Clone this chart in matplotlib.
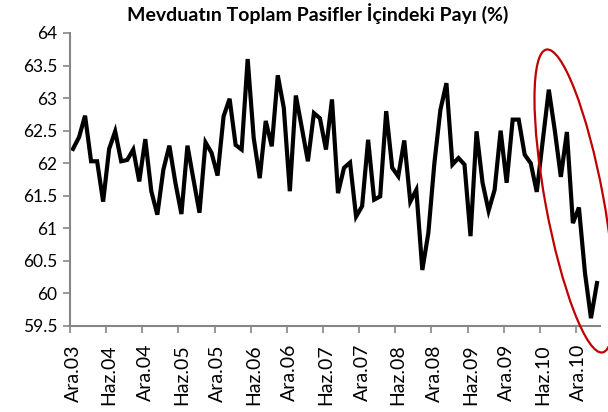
import matplotlib
matplotlib.use("Agg")
import matplotlib.pyplot as plt
from matplotlib.patches import Ellipse

plt.rcParams['font.family'] = ['Lato', 'DejaVu Sans']

# monthly share of deposits in total liabilities (%), Ara.03 .. Mar.11
payi = [62.22, 62.40, 62.73, 62.03, 62.03, 61.41, 62.22, 62.49, 62.03, 62.05,
        62.21, 61.72, 62.37, 61.57, 61.21, 61.90, 62.27, 61.70, 61.22, 62.27,
        61.75, 61.24, 62.32, 62.16, 61.81, 62.72, 62.99, 62.28, 62.21, 63.60,
        62.39, 61.77, 62.65, 62.26, 63.35, 62.85, 61.57, 63.04, 62.54, 62.03,
        62.77, 62.69, 62.21, 62.98, 61.54, 61.93, 62.01, 61.18, 61.34, 62.36,
        61.44, 61.49, 62.80, 61.93, 61.80, 62.35, 61.41, 61.59, 60.36, 60.93,
        62.00, 62.82, 63.23, 61.98, 62.08, 61.98, 60.88, 62.49, 61.70, 61.27,
        61.59, 62.50, 61.70, 62.67, 62.67, 62.13, 62.00, 61.56, 62.35, 63.13,
        62.50, 61.79, 62.48, 61.08, 61.32, 60.32, 59.62, 60.16]

etiketler = ['Ara.03', 'Haz.04', 'Ara.04', 'Haz.05', 'Ara.05', 'Haz.06', 'Ara.06',
             'Haz.07', 'Ara.07', 'Haz.08', 'Ara.08', 'Haz.09', 'Ara.09', 'Haz.10',
             'Ara.10']
y_ticks = [59.5, 60, 60.5, 61, 61.5, 62, 62.5, 63, 63.5, 64]

gray = '#868686'

fig = plt.figure(figsize=(6.08, 4.12), dpi=100)
ax = fig.add_axes([70/608, 1 - 326/412, 530/608, 293/412])

x = range(len(payi))
ax.plot(x, payi, color='black', lw=3, solid_joinstyle='miter')

ax.set_xlim(-0.5, len(payi) - 0.5)
ax.set_ylim(59.5, 64)

# labels on every 6th month, ticks between the categories
ax.set_xticks(range(0, len(payi), 6))
ax.set_xticklabels(etiketler, rotation=90, fontsize=14)
ax.tick_params(axis='x', length=0, pad=13)
ax.set_xticks([i - 0.5 for i in range(0, len(payi), 6)], minor=True)
ax.tick_params(axis='x', which='minor', length=5, color=gray, width=1.2)

ax.set_yticks(y_ticks)
ax.set_yticklabels(['%g' % v for v in y_ticks], fontsize=12.5)
ax.tick_params(axis='y', length=5, color=gray, width=1.2, pad=4)

for s in ['top', 'right']:
    ax.spines[s].set_visible(False)
for s in ['left', 'bottom']:
    ax.spines[s].set_color(gray)
    ax.spines[s].set_linewidth(1.5)

fig.text(318/608, 1 - 14/412, 'Mevduatın Toplam Pasifler İçindeki Payı (%)',
         fontsize=14, fontweight='bold', ha='center', va='center')

# red ellipse around the last months
ell = Ellipse((5.745, 2.11), 0.58, 3.08, angle=10.5, fill=False,
              edgecolor='#C00000', lw=1.6, transform=fig.dpi_scale_trans)
fig.patches.append(ell)

fig.savefig('out.png', dpi=100)
